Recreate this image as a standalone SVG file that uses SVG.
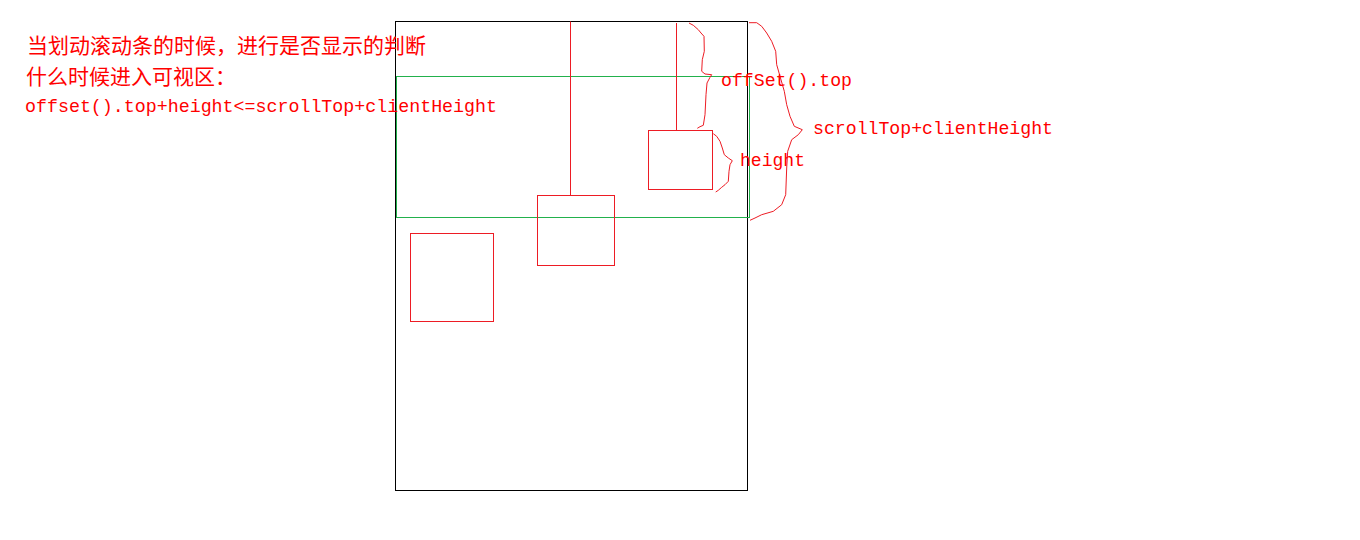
<svg xmlns="http://www.w3.org/2000/svg" width="1360" height="540" viewBox="0 0 1360 540">
  <style>
    .page { fill: none; stroke: #000000; stroke-width: 1; }
    .view { fill: none; stroke: #22b14c; stroke-width: 1; }
    .box { fill: none; stroke: #ed1c24; stroke-width: 1; }
    .line { fill: none; stroke: #ed1c24; stroke-width: 1; }
    .brace { fill: none; stroke: #ed1c24; stroke-width: 1; stroke-linejoin: round; }
    .zh { font-family: "Noto Sans CJK SC", "Liberation Sans", sans-serif; font-size: 21px; fill: #ff0000; }
    .code { font-family: "Liberation Mono", "DejaVu Sans Mono", monospace; font-size: 18.3px; fill: #ff0000; }
  </style>
  <rect width="1360" height="540" fill="#ffffff"/>

  <g id="page">
    <rect class="page" x="395.5" y="21.5" width="352" height="469"/>
  </g>
  <g id="viewport">
    <rect class="view" x="396.5" y="76.5" width="353" height="141"/>
  </g>
  <g id="box-left">
    <rect class="box" x="410.5" y="233.5" width="83" height="88"/>
  </g>
  <g id="box-middle">
    <rect class="box" x="537.5" y="195.5" width="77" height="70"/>
  </g>
  <g id="box-right">
    <rect class="box" x="648.5" y="130.5" width="64" height="59"/>
  </g>

  <g id="connectors">
    <line class="line" x1="570.5" y1="21.5" x2="570.5" y2="195.5"/>
    <line class="line" x1="676.5" y1="23" x2="676.5" y2="130.5"/>
    <polyline id="brace-offset" class="brace" points="689,23 693.3,25.3 698.3,29.7 701,33 704,36.3 704.3,51.3 702.3,59.7 701.7,71.3 705,74 711.7,74.7 710,77.3 707,83 706,94.7 705,114.7 703.3,125.3 700,126.7 697.3,128.3"/>
    <polyline id="brace-height" class="brace" points="713.3,133.7 716.7,136.3 720,141.3 722.3,148 724.3,154.7 728.3,158 732.3,160.7 730,164.7 729,171.3 728.3,181.3 725,184.7 721.7,187.3 718.3,190.3 715.7,192"/>
    <polyline id="brace-scroll" class="brace" points="749,22.7 756.7,22.7 761.7,26.3 766.7,33 771.7,41.3 775.7,51.3 776.7,64.7 780,76.3 784.3,91.3 786.7,104.7 790,116.3 794.3,126.3 802.3,129.7 798.3,134.7 791.7,139.7 787.7,151.3 786.7,168 785.7,194.7 781.7,204.7 773.3,211.3 761.7,214.7 755,218 750,220.3"/>
  </g>

  <g id="notes">
    <text class="zh" x="27" y="53">当划动滚动条的时候，进行是否显示的判断</text>
    <text class="zh" x="26" y="84">什么时候进入可视区：</text>
    <text class="code" x="25" y="111.5" textLength="472" lengthAdjust="spacingAndGlyphs">offset().top+height&lt;=scrollTop+clientHeight</text>
  </g>
  <g id="labels">
    <text class="code" x="721" y="86" textLength="131" lengthAdjust="spacingAndGlyphs">offSet().top</text>
    <text class="code" x="813" y="134" textLength="240" lengthAdjust="spacingAndGlyphs">scrollTop+clientHeight</text>
    <text class="code" x="740" y="165.5" textLength="65" lengthAdjust="spacingAndGlyphs">height</text>
  </g>
</svg>
